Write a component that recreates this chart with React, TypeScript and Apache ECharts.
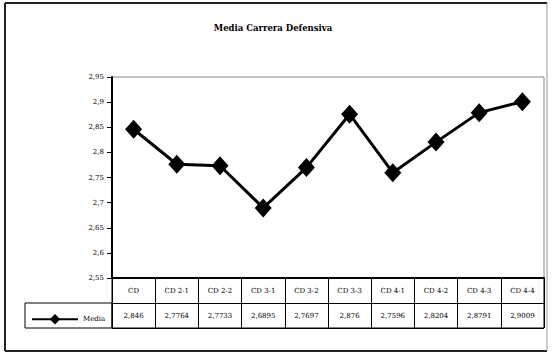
import React, { useEffect, useRef } from "react";
import * as echarts from "echarts";

const title = "Media Carrera Defensiva";
const seriesName = "Media";
const categories = ["CD", "CD 2-1", "CD 2-2", "CD 3-1", "CD 3-2", "CD 3-3", "CD 4-1", "CD 4-2", "CD 4-3", "CD 4-4"];
const media = [2.846, 2.7764, 2.7733, 2.6895, 2.7697, 2.876, 2.7596, 2.8204, 2.8791, 2.9009];
const yMin = 2.55;
const yMax = 2.95;
const yStep = 0.05;

const FONT = "DejaVu Serif";
const fmt = (v: number) => String(v).replace(".", ",");

export default function App() {
  const ref = useRef<HTMLDivElement>(null);
  useEffect(() => {
    if (!ref.current) return;
    const chart = echarts.init(ref.current, null, { renderer: "svg" });
    const PL = 112, PT = 77, PW = 432, PH = 201, TH = 50;
    chart.setOption({
      animation: false,
      backgroundColor: "#ffffff",
      title: {
        text: title,
        left: 268,
        textAlign: "center",
        top: 18,
        textStyle: { fontFamily: FONT, fontSize: 8.5, fontWeight: "bold", color: "#000" },
      },
      legend: {
        data: [seriesName],
        left: 26,
        top: 309,
        itemWidth: 46,
        itemHeight: 13,
        itemGap: 2,
        textStyle: { fontFamily: FONT, fontSize: 7, color: "#000" },
      },
      grid: [
        { left: PL, top: PT, width: PW, height: PH, show: true, borderColor: "#888", borderWidth: 1 },
        { left: PL, top: PT + PH, width: PW, height: TH, show: true, borderColor: "#000", borderWidth: 1 },
      ],
      xAxis: [
        {
          type: "category",
          gridIndex: 0,
          data: categories,
          boundaryGap: true,
          axisLine: { show: true, lineStyle: { color: "#000", width: 2 } },
          axisTick: { show: false },
          axisLabel: { show: false },
          splitLine: { show: false },
        },
        {
          type: "category",
          gridIndex: 1,
          data: categories,
          boundaryGap: true,
          axisLine: { show: false },
          axisTick: { show: false, interval: 0 },
          axisLabel: { show: false, interval: 0 },
          splitLine: { show: true, interval: 0, lineStyle: { color: "#000", width: 1 } },
        },
      ],
      yAxis: [
        {
          type: "value",
          gridIndex: 0,
          min: yMin,
          max: yMax,
          interval: yStep,
          axisLine: { show: true, lineStyle: { color: "#000", width: 2 } },
          axisTick: { show: true, length: 5, lineStyle: { color: "#000", width: 1 } },
          axisLabel: {
            fontFamily: FONT,
            fontSize: 7,
            color: "#000",
            margin: 8,
            formatter: (v: number) => fmt(Math.round(v * 100) / 100),
          },
          splitLine: { show: false },
        },
        {
          type: "value",
          gridIndex: 1,
          min: 0,
          max: 2,
          interval: 1,
          axisLine: { show: false },
          axisTick: { show: false },
          axisLabel: { show: false },
          splitLine: { show: true, lineStyle: { color: "#000", width: 1 } },
        },
      ],
      series: [
        {
          name: seriesName,
          type: "line",
          xAxisIndex: 0,
          yAxisIndex: 0,
          data: media,
          symbol: "diamond",
          symbolSize: [17, 19],
          lineStyle: { color: "#000", width: 3 },
          itemStyle: { color: "#000" },
        },
        {
          name: "table",
          type: "custom",
          xAxisIndex: 1,
          yAxisIndex: 1,
          data: media.map((v, i) => [i, v]),
          renderItem: (params: any, api: any) => {
            const i = api.value(0);
            const v = api.value(1);
            const p1 = api.coord([i, 1.5]);
            const p2 = api.coord([i, 0.5]);
            return {
              type: "group",
              children: [
                {
                  type: "text",
                  x: p1[0],
                  y: p1[1],
                  style: {
                    text: categories[i],
                    fontFamily: FONT,
                    fontSize: 7,
                    fill: "#000",
                    align: "center",
                    verticalAlign: "middle",
                  },
                },
                {
                  type: "text",
                  x: p2[0],
                  y: p2[1],
                  style: {
                    text: fmt(v),
                    fontFamily: FONT,
                    fontSize: 7,
                    fill: "#000",
                    align: "center",
                    verticalAlign: "middle",
                  },
                },
              ],
            };
          },
        },
      ],
      graphic: [
        {
          type: "rect",
          shape: { x: 25, y: PT + PH + TH / 2, width: PL - 25, height: TH / 2 },
          style: { fill: "none", stroke: "#000", lineWidth: 1 },
          z: -1,
        },
        { type: "line", shape: { x1: 5, y1: 3, x2: 547, y2: 3 }, style: { stroke: "#222", lineWidth: 2 } },
        { type: "line", shape: { x1: 5, y1: 3, x2: 5, y2: 351 }, style: { stroke: "#222", lineWidth: 2 } },
        { type: "line", shape: { x1: 5, y1: 351, x2: 547, y2: 351 }, style: { stroke: "#222", lineWidth: 2 } },
        { type: "line", shape: { x1: 547, y1: 3, x2: 547, y2: 351 }, style: { stroke: "#999", lineWidth: 1 } },
      ],
    });
    return () => chart.dispose();
  }, []);
  return (
    <div
      ref={ref}
      style={{ position: "absolute", left: 0, top: 0, width: 556, height: 354, background: "#fff" }}
    />
  );
}
